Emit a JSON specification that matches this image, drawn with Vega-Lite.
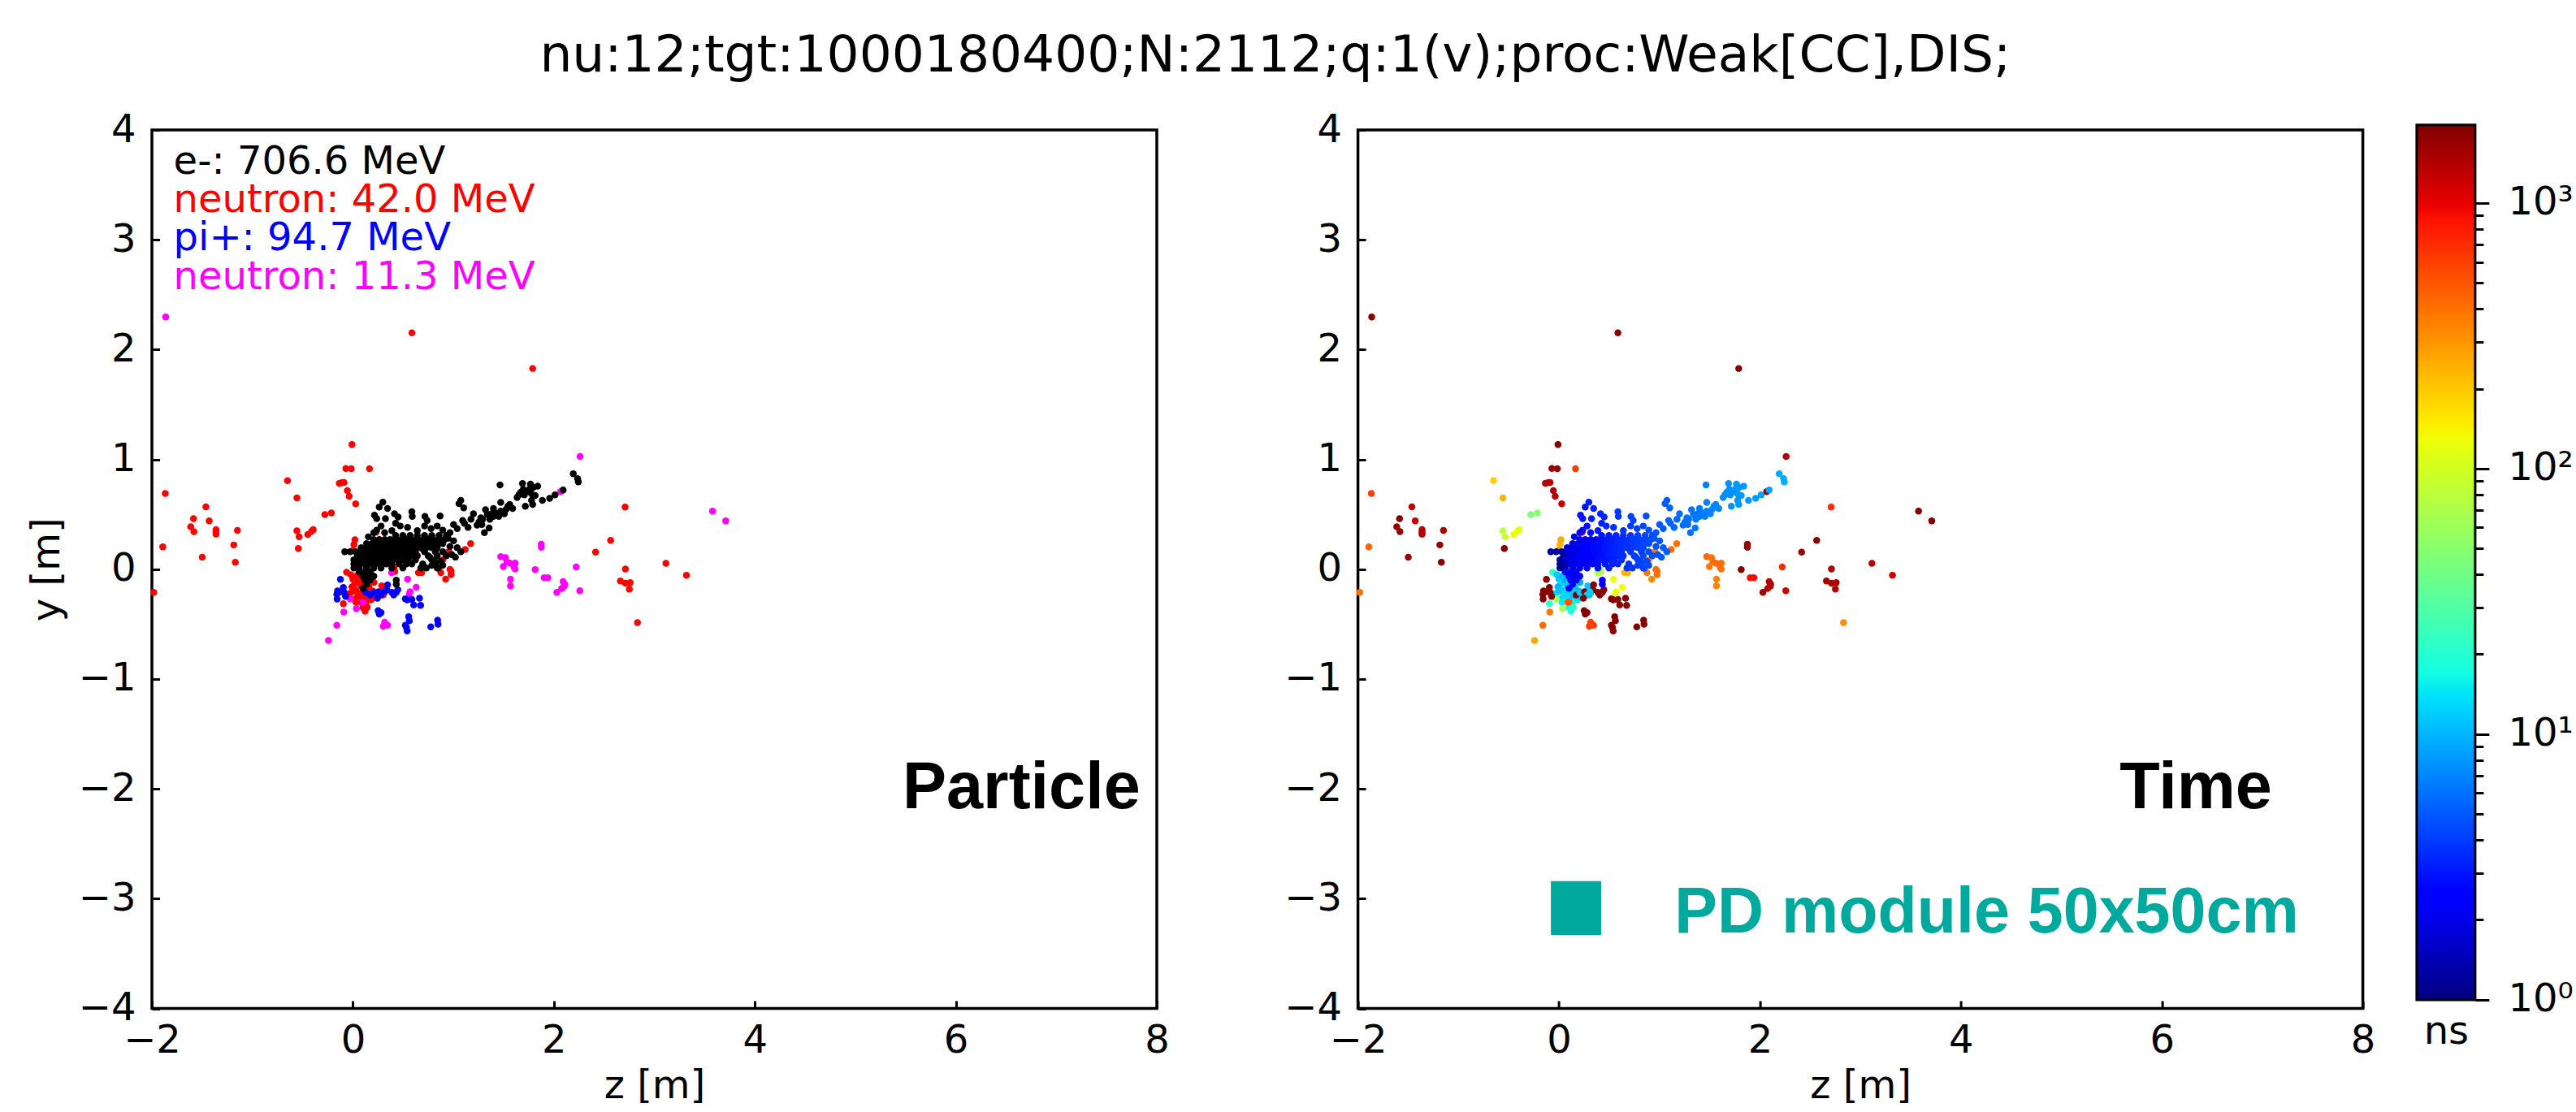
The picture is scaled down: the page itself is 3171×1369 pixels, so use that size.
{
"$schema": "https://vega.github.io/schema/vega-lite/v6.json",
"background": "white",
"padding": {"left": 32, "top": 38, "right": 0, "bottom": 0},
"title": {"text": "nu:12;tgt:1000180400;N:2112;q:1(v);proc:Weak[CC],DIS;", "font": "DejaVu Sans", "fontSize": 63, "fontWeight": "normal", "color": "black", "anchor": "middle", "offset": 33, "dx": -30},
"config": {
 "font": "DejaVu Sans",
 "view": {"stroke": "black", "strokeWidth": 3.5},
 "axis": {"domain": false, "grid": false, "tickSize": -9.5, "tickWidth": 3, "tickColor": "black", "labelFont": "DejaVu Sans", "labelFontSize": 48, "labelColor": "black", "labelFlush": false, "labelOverlap": false, "titleFont": "DejaVu Sans", "titleFontSize": 48, "titleFontWeight": "normal", "titleColor": "black"},
 "axisX": {"labelPadding": 25.5, "titlePadding": 8},
 "axisY": {"labelPadding": 29.5, "titlePadding": 14}
},
"datasets": {"pts": [
{"z":-1.867,"y":0.689,"p":"n","t":600},
{"z":-1.892,"y":0.204,"p":"n","t":450},
{"z":-1.982,"y":-0.211,"p":"n","t":400},
{"z":-1.463,"y":0.568,"p":"n","t":1300},
{"z":-1.586,"y":0.46,"p":"n","t":1900},
{"z":-1.43,"y":0.44,"p":"n","t":1200},
{"z":-1.614,"y":0.386,"p":"n","t":1700},
{"z":-1.582,"y":0.342,"p":"n","t":1700},
{"z":-1.362,"y":0.361,"p":"n","t":1400},
{"z":-1.362,"y":0.337,"p":"n","t":1400},
{"z":-1.362,"y":0.319,"p":"n","t":1400},
{"z":-1.149,"y":0.354,"p":"n","t":1500},
{"z":-1.185,"y":0.221,"p":"n","t":1700},
{"z":-1.499,"y":0.11,"p":"n","t":1700},
{"z":-1.17,"y":0.063,"p":"n","t":1850},
{"z":-0.651,"y":0.807,"p":"n","t":190},
{"z":-0.557,"y":0.65,"p":"n","t":230},
{"z":-0.557,"y":0.349,"p":"n","t":80},
{"z":-0.535,"y":0.295,"p":"n","t":95},
{"z":-0.543,"y":0.189,"p":"n","t":1850},
{"z":-0.449,"y":0.317,"p":"n","t":125},
{"z":-0.413,"y":0.344,"p":"n","t":120},
{"z":-0.395,"y":0.361,"p":"n","t":115},
{"z":-0.279,"y":0.497,"p":"n","t":45},
{"z":-0.214,"y":0.512,"p":"n","t":50},
{"z":-0.009,"y":1.135,"p":"n","t":1950},
{"z":-0.07,"y":0.918,"p":"n","t":1700},
{"z":-0.016,"y":0.916,"p":"n","t":1700},
{"z":0.165,"y":0.916,"p":"n","t":600},
{"z":-0.135,"y":0.783,"p":"n","t":1400},
{"z":-0.11,"y":0.788,"p":"n","t":1400},
{"z":-0.088,"y":0.79,"p":"n","t":1400},
{"z":-0.055,"y":0.716,"p":"n","t":1400},
{"z":-0.037,"y":0.664,"p":"n","t":1400},
{"z":0.028,"y":0.595,"p":"n","t":1200},
{"z":0.23,"y":0.337,"p":"n","t":1000},
{"z":0.02,"y":0.268,"p":"n","t":260},
{"z":0.01,"y":0.223,"p":"n","t":240},
{"z":0.0,"y":0.171,"p":"n","t":300},
{"z":-0.063,"y":-0.028,"p":"n","t":22},
{"z":-0.02,"y":-0.05,"p":"n","t":12},
{"z":0.0,"y":-0.09,"p":"n","t":11},
{"z":0.02,"y":-0.13,"p":"n","t":13},
{"z":-0.01,"y":-0.16,"p":"n","t":10},
{"z":0.03,"y":-0.19,"p":"n","t":12},
{"z":0.06,"y":-0.1,"p":"n","t":9},
{"z":0.08,"y":-0.15,"p":"n","t":11},
{"z":0.05,"y":-0.23,"p":"n","t":14},
{"z":0.09,"y":-0.21,"p":"n","t":12},
{"z":0.12,"y":-0.18,"p":"n","t":10},
{"z":0.11,"y":-0.26,"p":"n","t":13},
{"z":0.14,"y":-0.24,"p":"n","t":11},
{"z":0.17,"y":-0.22,"p":"n","t":12},
{"z":0.18,"y":-0.28,"p":"n","t":14},
{"z":0.13,"y":-0.3,"p":"n","t":16},
{"z":0.02,"y":-0.27,"p":"n","t":12},
{"z":-0.03,"y":-0.22,"p":"n","t":13},
{"z":0.2,"y":-0.2,"p":"n","t":10},
{"z":0.22,"y":-0.26,"p":"n","t":11},
{"z":0.06,"y":-0.03,"p":"n","t":9},
{"z":0.15,"y":-0.08,"p":"n","t":10},
{"z":0.21,"y":-0.12,"p":"n","t":9},
{"z":0.0,"y":-0.2,"p":"n","t":11},
{"z":0.04,"y":-0.06,"p":"n","t":10},
{"z":0.1,"y":-0.12,"p":"n","t":12},
{"z":0.07,"y":-0.25,"p":"n","t":13},
{"z":0.16,"y":-0.16,"p":"n","t":11},
{"z":0.03,"y":-0.3,"p":"n","t":15},
{"z":0.1,"y":-0.35,"p":"n","t":17},
{"z":-0.095,"y":-0.314,"p":"n","t":22},
{"z":0.121,"y":-0.383,"p":"n","t":18},
{"z":0.143,"y":-0.346,"p":"n","t":20},
{"z":0.085,"y":-0.304,"p":"n","t":400},
{"z":0.316,"y":-0.211,"p":"n","t":10},
{"z":0.322,"y":-0.177,"p":"n","t":11},
{"z":0.302,"y":-0.235,"p":"n","t":10},
{"z":0.287,"y":-0.151,"p":"n","t":11},
{"z":0.41,"y":0.016,"p":"n","t":70},
{"z":0.417,"y":-0.021,"p":"n","t":70},
{"z":0.652,"y":-0.031,"p":"n","t":230},
{"z":0.684,"y":-0.031,"p":"n","t":230},
{"z":0.875,"y":-0.031,"p":"n","t":380},
{"z":0.923,"y":-0.09,"p":"n","t":330},
{"z":0.966,"y":-0.001,"p":"n","t":420},
{"z":0.977,"y":-0.018,"p":"n","t":420},
{"z":0.977,"y":-0.05,"p":"n","t":400},
{"z":0.894,"y":0.085,"p":"n","t":330},
{"z":0.955,"y":0.159,"p":"n","t":380},
{"z":0.688,"y":0.189,"p":"n","t":300},
{"z":1.117,"y":0.179,"p":"n","t":420},
{"z":1.172,"y":0.233,"p":"n","t":400},
{"z":2.709,"y":0.566,"p":"n","t":700},
{"z":2.565,"y":0.263,"p":"n","t":1850},
{"z":2.415,"y":0.156,"p":"n","t":1700},
{"z":3.115,"y":0.053,"p":"n","t":1400},
{"z":2.712,"y":0.002,"p":"n","t":1400},
{"z":3.319,"y":-0.055,"p":"n","t":1200},
{"z":2.662,"y":-0.107,"p":"n","t":1600},
{"z":2.712,"y":-0.127,"p":"n","t":1500},
{"z":2.759,"y":-0.122,"p":"n","t":1500},
{"z":2.751,"y":-0.181,"p":"n","t":1400},
{"z":2.832,"y":-0.486,"p":"n","t":320},
{"z":0.587,"y":2.153,"p":"n","t":1900},
{"z":1.789,"y":1.828,"p":"n","t":1900},
{"z":-1.863,"y":2.296,"p":"m","t":1900},
{"z":2.261,"y":1.027,"p":"m","t":1400},
{"z":2.067,"y":0.706,"p":"m","t":1800},
{"z":1.875,"y":0.228,"p":"m","t":1700},
{"z":1.875,"y":0.199,"p":"m","t":1700},
{"z":1.471,"y":0.115,"p":"m","t":420},
{"z":1.518,"y":0.105,"p":"m","t":400},
{"z":1.532,"y":0.066,"p":"m","t":400},
{"z":1.561,"y":0.056,"p":"m","t":420},
{"z":1.497,"y":0.024,"p":"m","t":380},
{"z":1.615,"y":0.056,"p":"m","t":400},
{"z":1.604,"y":0.016,"p":"m","t":420},
{"z":1.615,"y":0.001,"p":"m","t":400},
{"z":1.814,"y":-0.004,"p":"m","t":1850},
{"z":2.222,"y":0.021,"p":"m","t":700},
{"z":1.568,"y":-0.09,"p":"m","t":350},
{"z":1.568,"y":-0.151,"p":"m","t":350},
{"z":1.904,"y":-0.078,"p":"m","t":900},
{"z":1.94,"y":-0.078,"p":"m","t":900},
{"z":2.092,"y":-0.112,"p":"m","t":1400},
{"z":2.107,"y":-0.137,"p":"m","t":1400},
{"z":2.103,"y":-0.156,"p":"m","t":1400},
{"z":2.077,"y":-0.176,"p":"m","t":1400},
{"z":2.03,"y":-0.211,"p":"m","t":1600},
{"z":2.258,"y":-0.196,"p":"m","t":1200},
{"z":3.579,"y":0.529,"p":"m","t":1950},
{"z":3.71,"y":0.44,"p":"m","t":1950},
{"z":0.385,"y":-0.031,"p":"m","t":70},
{"z":0.544,"y":-0.09,"p":"m","t":130},
{"z":0.63,"y":-0.164,"p":"m","t":130},
{"z":0.569,"y":-0.206,"p":"m","t":130},
{"z":0.562,"y":-0.223,"p":"m","t":125},
{"z":-0.027,"y":-0.27,"p":"m","t":65},
{"z":0.1,"y":-0.299,"p":"m","t":500},
{"z":0.035,"y":-0.358,"p":"m","t":70},
{"z":-0.091,"y":-0.39,"p":"m","t":380},
{"z":0.316,"y":-0.482,"p":"m","t":600},
{"z":0.302,"y":-0.519,"p":"m","t":600},
{"z":0.345,"y":-0.51,"p":"m","t":600},
{"z":-0.16,"y":-0.511,"p":"m","t":420},
{"z":-0.243,"y":-0.649,"p":"m","t":260},
{"z":-0.124,"y":-0.092,"p":"pi","t":1900},
{"z":-0.153,"y":-0.198,"p":"pi","t":1900},
{"z":-0.16,"y":-0.23,"p":"pi","t":1900},
{"z":-0.157,"y":-0.272,"p":"pi","t":1900},
{"z":-0.095,"y":-0.166,"p":"pi","t":1900},
{"z":-0.088,"y":-0.211,"p":"pi","t":1900},
{"z":-0.073,"y":-0.248,"p":"pi","t":1900},
{"z":-0.11,"y":-0.206,"p":"pi","t":1900},
{"z":0.129,"y":-0.211,"p":"pi","t":12},
{"z":0.172,"y":-0.235,"p":"pi","t":1900},
{"z":0.208,"y":-0.211,"p":"pi","t":12},
{"z":0.255,"y":-0.206,"p":"pi","t":1900},
{"z":0.28,"y":-0.235,"p":"pi","t":12},
{"z":0.244,"y":-0.265,"p":"pi","t":1900},
{"z":0.345,"y":-0.142,"p":"pi","t":1900},
{"z":0.338,"y":-0.186,"p":"pi","t":1900},
{"z":0.388,"y":-0.211,"p":"pi","t":1900},
{"z":0.406,"y":-0.235,"p":"pi","t":1900},
{"z":0.432,"y":-0.211,"p":"pi","t":1900},
{"z":0.447,"y":-0.186,"p":"pi","t":1900},
{"z":0.309,"y":-0.206,"p":"pi","t":12},
{"z":0.522,"y":-0.27,"p":"pi","t":1900},
{"z":0.587,"y":-0.275,"p":"pi","t":1900},
{"z":0.605,"y":-0.326,"p":"pi","t":1900},
{"z":0.663,"y":-0.265,"p":"pi","t":1900},
{"z":0.674,"y":-0.329,"p":"pi","t":1900},
{"z":0.54,"y":-0.28,"p":"pi","t":1900},
{"z":0.251,"y":-0.378,"p":"pi","t":1950},
{"z":0.28,"y":-0.395,"p":"pi","t":1950},
{"z":0.262,"y":-0.408,"p":"pi","t":1950},
{"z":0.555,"y":-0.432,"p":"pi","t":1900},
{"z":0.562,"y":-0.469,"p":"pi","t":1900},
{"z":0.522,"y":-0.511,"p":"pi","t":1900},
{"z":0.533,"y":-0.531,"p":"pi","t":1900},
{"z":0.54,"y":-0.563,"p":"pi","t":1900},
{"z":0.775,"y":-0.526,"p":"pi","t":1950},
{"z":0.843,"y":-0.464,"p":"pi","t":1900},
{"z":0.847,"y":-0.501,"p":"pi","t":1900},
{"z":0.425,"y":0.307,"p":"e","t":2.9},
{"z":0.497,"y":0.307,"p":"e","t":3.1},
{"z":0.569,"y":0.307,"p":"e","t":3.4},
{"z":0.641,"y":0.307,"p":"e","t":3.6},
{"z":0.713,"y":0.307,"p":"e","t":3.9},
{"z":0.785,"y":0.307,"p":"e","t":4.1},
{"z":0.858,"y":0.307,"p":"e","t":4.3},
{"z":0.93,"y":0.307,"p":"e","t":4.6},
{"z":0.208,"y":0.27,"p":"e","t":2.2},
{"z":0.262,"y":0.27,"p":"e","t":2.4},
{"z":0.316,"y":0.27,"p":"e","t":2.5},
{"z":0.37,"y":0.27,"p":"e","t":2.7},
{"z":0.425,"y":0.27,"p":"e","t":2.9},
{"z":0.479,"y":0.27,"p":"e","t":3.1},
{"z":0.533,"y":0.27,"p":"e","t":3.3},
{"z":0.587,"y":0.27,"p":"e","t":3.4},
{"z":0.641,"y":0.27,"p":"e","t":3.6},
{"z":0.695,"y":0.27,"p":"e","t":3.8},
{"z":0.749,"y":0.27,"p":"e","t":4.0},
{"z":0.803,"y":0.27,"p":"e","t":4.1},
{"z":0.858,"y":0.27,"p":"e","t":4.3},
{"z":0.912,"y":0.27,"p":"e","t":4.5},
{"z":0.136,"y":0.233,"p":"e","t":1.9},
{"z":0.19,"y":0.233,"p":"e","t":2.1},
{"z":0.244,"y":0.233,"p":"e","t":2.3},
{"z":0.298,"y":0.233,"p":"e","t":2.5},
{"z":0.352,"y":0.233,"p":"e","t":2.7},
{"z":0.406,"y":0.233,"p":"e","t":2.8},
{"z":0.461,"y":0.233,"p":"e","t":3.0},
{"z":0.515,"y":0.233,"p":"e","t":3.2},
{"z":0.569,"y":0.233,"p":"e","t":3.4},
{"z":0.623,"y":0.233,"p":"e","t":3.6},
{"z":0.677,"y":0.233,"p":"e","t":3.7},
{"z":0.731,"y":0.233,"p":"e","t":3.9},
{"z":0.785,"y":0.233,"p":"e","t":4.1},
{"z":0.839,"y":0.233,"p":"e","t":4.3},
{"z":0.894,"y":0.233,"p":"e","t":4.5},
{"z":0.082,"y":0.196,"p":"e","t":1.8},
{"z":0.136,"y":0.196,"p":"e","t":1.9},
{"z":0.19,"y":0.196,"p":"e","t":2.1},
{"z":0.244,"y":0.196,"p":"e","t":2.3},
{"z":0.298,"y":0.196,"p":"e","t":2.5},
{"z":0.352,"y":0.196,"p":"e","t":2.7},
{"z":0.406,"y":0.196,"p":"e","t":2.8},
{"z":0.461,"y":0.196,"p":"e","t":3.0},
{"z":0.515,"y":0.196,"p":"e","t":3.2},
{"z":0.569,"y":0.196,"p":"e","t":3.4},
{"z":0.623,"y":0.196,"p":"e","t":3.6},
{"z":0.677,"y":0.196,"p":"e","t":3.7},
{"z":0.731,"y":0.196,"p":"e","t":3.9},
{"z":0.785,"y":0.196,"p":"e","t":4.1},
{"z":0.839,"y":0.196,"p":"e","t":4.3},
{"z":-0.081,"y":0.159,"p":"e","t":1.3},
{"z":-0.027,"y":0.159,"p":"e","t":1.3},
{"z":0.028,"y":0.159,"p":"e","t":1.2},
{"z":0.082,"y":0.159,"p":"e","t":1.8},
{"z":0.136,"y":0.159,"p":"e","t":1.9},
{"z":0.19,"y":0.159,"p":"e","t":2.1},
{"z":0.244,"y":0.159,"p":"e","t":2.3},
{"z":0.298,"y":0.159,"p":"e","t":2.5},
{"z":0.352,"y":0.159,"p":"e","t":2.7},
{"z":0.406,"y":0.159,"p":"e","t":2.8},
{"z":0.461,"y":0.159,"p":"e","t":3.0},
{"z":0.515,"y":0.159,"p":"e","t":3.2},
{"z":0.569,"y":0.159,"p":"e","t":3.4},
{"z":0.623,"y":0.159,"p":"e","t":3.6},
{"z":0.713,"y":0.159,"p":"e","t":3.9},
{"z":0.821,"y":0.159,"p":"e","t":4.2},
{"z":0.046,"y":0.122,"p":"e","t":1.2},
{"z":0.1,"y":0.122,"p":"e","t":1.8},
{"z":0.154,"y":0.122,"p":"e","t":2.0},
{"z":0.208,"y":0.122,"p":"e","t":2.2},
{"z":0.262,"y":0.122,"p":"e","t":2.4},
{"z":0.316,"y":0.122,"p":"e","t":2.5},
{"z":0.37,"y":0.122,"p":"e","t":2.7},
{"z":0.425,"y":0.122,"p":"e","t":2.9},
{"z":0.479,"y":0.122,"p":"e","t":3.1},
{"z":0.533,"y":0.122,"p":"e","t":3.3},
{"z":0.587,"y":0.122,"p":"e","t":3.4},
{"z":0.641,"y":0.122,"p":"e","t":3.6},
{"z":0.749,"y":0.122,"p":"e","t":4.0},
{"z":0.839,"y":0.122,"p":"e","t":4.3},
{"z":0.01,"y":0.085,"p":"e","t":1.2},
{"z":0.064,"y":0.085,"p":"e","t":1.7},
{"z":0.118,"y":0.085,"p":"e","t":1.9},
{"z":0.172,"y":0.085,"p":"e","t":2.1},
{"z":0.226,"y":0.085,"p":"e","t":2.2},
{"z":0.28,"y":0.085,"p":"e","t":2.4},
{"z":0.334,"y":0.085,"p":"e","t":2.6},
{"z":0.388,"y":0.085,"p":"e","t":2.8},
{"z":0.443,"y":0.085,"p":"e","t":3.0},
{"z":0.497,"y":0.085,"p":"e","t":3.1},
{"z":0.551,"y":0.085,"p":"e","t":3.3},
{"z":0.623,"y":0.085,"p":"e","t":3.6},
{"z":0.785,"y":0.085,"p":"e","t":4.1},
{"z":0.01,"y":0.048,"p":"e","t":1.1},
{"z":0.064,"y":0.048,"p":"e","t":1.4},
{"z":0.118,"y":0.048,"p":"e","t":1.9},
{"z":0.172,"y":0.048,"p":"e","t":2.1},
{"z":0.226,"y":0.048,"p":"e","t":2.2},
{"z":0.28,"y":0.048,"p":"e","t":2.4},
{"z":0.334,"y":0.048,"p":"e","t":2.6},
{"z":0.388,"y":0.048,"p":"e","t":2.8},
{"z":0.461,"y":0.048,"p":"e","t":3.0},
{"z":0.533,"y":0.048,"p":"e","t":3.3},
{"z":0.587,"y":0.048,"p":"e","t":3.4},
{"z":0.695,"y":0.048,"p":"e","t":3.8},
{"z":0.821,"y":0.048,"p":"e","t":4.2},
{"z":0.01,"y":0.011,"p":"e","t":1.1},
{"z":0.064,"y":0.011,"p":"e","t":1.2},
{"z":0.136,"y":0.011,"p":"e","t":1.9},
{"z":0.208,"y":0.011,"p":"e","t":2.2},
{"z":0.28,"y":0.011,"p":"e","t":2.4},
{"z":0.388,"y":0.011,"p":"e","t":2.8},
{"z":0.497,"y":0.011,"p":"e","t":3.1},
{"z":0.677,"y":0.011,"p":"e","t":3.7},
{"z":0.839,"y":0.011,"p":"e","t":4.3},
{"z":0.064,"y":-0.025,"p":"e","t":2.2},
{"z":0.118,"y":-0.025,"p":"e","t":2.2},
{"z":0.172,"y":-0.025,"p":"e","t":2.3},
{"z":0.1,"y":-0.063,"p":"e","t":2.2},
{"z":0.154,"y":-0.063,"p":"e","t":2.2},
{"z":0.208,"y":-0.063,"p":"e","t":2.3},
{"z":0.118,"y":-0.1,"p":"e","t":2.2},
{"z":0.172,"y":-0.1,"p":"e","t":2.3},
{"z":0.136,"y":-0.137,"p":"e","t":2.2},
{"z":0.1,"y":-0.174,"p":"e","t":2.2},
{"z":0.432,"y":-0.1,"p":"e","t":2.5},
{"z":0.432,"y":-0.137,"p":"e","t":2.5},
{"z":0.298,"y":0.61,"p":"e","t":3.2},
{"z":0.262,"y":0.566,"p":"e","t":3.0},
{"z":0.345,"y":0.553,"p":"e","t":3.2},
{"z":0.215,"y":0.492,"p":"e","t":3.0},
{"z":0.237,"y":0.46,"p":"e","t":3.0},
{"z":0.324,"y":0.46,"p":"e","t":3.2},
{"z":0.414,"y":0.504,"p":"e","t":3.4},
{"z":0.45,"y":0.475,"p":"e","t":3.4},
{"z":0.587,"y":0.524,"p":"e","t":3.8},
{"z":0.591,"y":0.48,"p":"e","t":3.8},
{"z":0.717,"y":0.48,"p":"e","t":4.2},
{"z":0.739,"y":0.443,"p":"e","t":4.2},
{"z":0.868,"y":0.484,"p":"e","t":4.6},
{"z":0.425,"y":0.418,"p":"e","t":3.3},
{"z":0.471,"y":0.393,"p":"e","t":3.4},
{"z":0.544,"y":0.381,"p":"e","t":3.6},
{"z":0.641,"y":0.351,"p":"e","t":3.8},
{"z":0.713,"y":0.393,"p":"e","t":4.0},
{"z":0.778,"y":0.369,"p":"e","t":4.2},
{"z":0.28,"y":0.393,"p":"e","t":2.9},
{"z":0.237,"y":0.356,"p":"e","t":2.8},
{"z":0.316,"y":0.332,"p":"e","t":2.8},
{"z":0.388,"y":0.351,"p":"e","t":3.0},
{"z":0.208,"y":0.332,"p":"e","t":2.6},
{"z":0.154,"y":0.295,"p":"e","t":2.3},
{"z":0.839,"y":0.393,"p":"e","t":4.4},
{"z":0.894,"y":0.356,"p":"e","t":4.6},
{"z":1.074,"y":0.627,"p":"e","t":5.2},
{"z":1.056,"y":0.598,"p":"e","t":5.2},
{"z":1.103,"y":0.558,"p":"e","t":5.4},
{"z":1.2,"y":0.504,"p":"e","t":5.8},
{"z":1.002,"y":0.406,"p":"e","t":5.0},
{"z":1.092,"y":0.443,"p":"e","t":5.3},
{"z":1.11,"y":0.418,"p":"e","t":5.4},
{"z":1.255,"y":0.43,"p":"e","t":6.0},
{"z":1.291,"y":0.455,"p":"e","t":6.0},
{"z":1.32,"y":0.541,"p":"e","t":6.2},
{"z":1.399,"y":0.553,"p":"e","t":6.4},
{"z":1.471,"y":0.608,"p":"e","t":6.8},
{"z":1.453,"y":0.48,"p":"e","t":6.6},
{"z":1.356,"y":0.376,"p":"e","t":6.2},
{"z":1.309,"y":0.332,"p":"e","t":6.0},
{"z":1.561,"y":0.59,"p":"e","t":7.0},
{"z":1.59,"y":0.553,"p":"e","t":7.0},
{"z":1.652,"y":0.677,"p":"e","t":7.4},
{"z":1.695,"y":0.726,"p":"e","t":7.6},
{"z":1.688,"y":0.78,"p":"e","t":7.6},
{"z":1.767,"y":0.775,"p":"e","t":8.0},
{"z":1.796,"y":0.746,"p":"e","t":8.0},
{"z":1.839,"y":0.756,"p":"e","t":8.2},
{"z":1.731,"y":0.706,"p":"e","t":7.8},
{"z":1.778,"y":0.687,"p":"e","t":8.0},
{"z":1.814,"y":0.672,"p":"e","t":8.0},
{"z":1.716,"y":0.573,"p":"e","t":7.6},
{"z":1.789,"y":0.59,"p":"e","t":8.0},
{"z":1.886,"y":0.627,"p":"e","t":8.2},
{"z":1.958,"y":0.645,"p":"e","t":8.4},
{"z":2.012,"y":0.677,"p":"e","t":8.6},
{"z":2.092,"y":0.721,"p":"e","t":8.8},
{"z":2.193,"y":0.869,"p":"e","t":9.2},
{"z":2.236,"y":0.825,"p":"e","t":9.4},
{"z":2.243,"y":0.795,"p":"e","t":9.4},
{"z":1.464,"y":0.768,"p":"e","t":6.8},
{"z":1.489,"y":0.516,"p":"e","t":6.8},
{"z":1.525,"y":0.546,"p":"e","t":7.0},
{"z":1.435,"y":0.509,"p":"e","t":6.5},
{"z":1.381,"y":0.504,"p":"e","t":6.3},
{"z":1.283,"y":0.406,"p":"e","t":6.0},
{"z":1.236,"y":0.401,"p":"e","t":5.8},
{"z":1.363,"y":0.455,"p":"e","t":6.3},
{"z":1.399,"y":0.48,"p":"e","t":6.4},
{"z":1.507,"y":0.504,"p":"e","t":6.9},
{"z":1.543,"y":0.573,"p":"e","t":7.0},
{"z":1.634,"y":0.652,"p":"e","t":7.3},
{"z":1.67,"y":0.701,"p":"e","t":7.5},
{"z":1.753,"y":0.726,"p":"e","t":7.9},
{"z":1.471,"y":0.529,"p":"e","t":6.8},
{"z":1.338,"y":0.499,"p":"e","t":6.2},
{"z":1.273,"y":0.467,"p":"e","t":6.0},
{"z":1.175,"y":0.455,"p":"e","t":5.6},
{"z":1.146,"y":0.381,"p":"e","t":5.5},
{"z":1.038,"y":0.369,"p":"e","t":5.0},
{"z":0.966,"y":0.332,"p":"e","t":4.8},
{"z":1.002,"y":0.258,"p":"e","t":4.9},
{"z":0.948,"y":0.282,"p":"e","t":4.7},
{"z":0.966,"y":0.208,"p":"e","t":4.8},
{"z":1.074,"y":0.159,"p":"e","t":5.2},
{"z":1.038,"y":0.196,"p":"e","t":5.0},
{"z":0.984,"y":0.134,"p":"e","t":4.8},
{"z":1.778,"y":0.627,"p":"e","t":8.0},
{"z":1.706,"y":0.677,"p":"e","t":7.6},
{"z":0.814,"y":0.073,"p":"e","t":4.2},
{"z":0.85,"y":0.011,"p":"e","t":4.3},
{"z":0.785,"y":0.036,"p":"e","t":4.1},
{"z":0.731,"y":0.011,"p":"e","t":3.9},
{"z":0.767,"y":0.11,"p":"e","t":4.0},
{"z":0.894,"y":0.159,"p":"e","t":4.5},
{"z":0.93,"y":0.122,"p":"e","t":4.6},
{"z":0.876,"y":0.073,"p":"e","t":4.4},
{"z":0.894,"y":0.036,"p":"e","t":4.5},
{"z":1.02,"y":0.11,"p":"e","t":5.0}
]},
"spacing": 247.6,
"bounds": "flush",
"hconcat": [
 {
  "width": 1237, "height": 1081.5,
  "layer": [
   {"data": {"name": "pts"}, "mark": {"type": "circle", "size": 72, "opacity": 1},
    "encoding": {
     "x": {"field": "z", "type": "quantitative", "scale": {"domain": [-2, 8], "nice": false, "zero": false}, "axis": {"values": [-2, 0, 2, 4, 6, 8], "format": "d", "title": "z [m]"}},
     "y": {"field": "y", "type": "quantitative", "scale": {"domain": [-4, 4], "nice": false, "zero": false}, "axis": {"values": [-4, -3, -2, -1, 0, 1, 2, 3, 4], "format": "d", "title": "y [m]"}},
     "color": {"field": "p", "type": "nominal", "scale": {"domain": ["e", "n", "pi", "m"], "range": ["#000000", "#FF0000", "#0000FF", "#FF00FF"]}, "legend": null}
    }},
   {"data": {"values": [{}]}, "mark": {"type": "text", "align": "left", "baseline": "alphabetic", "font": "DejaVu Sans", "fontSize": 48, "color": "#000000"},
    "encoding": {"x": {"datum": -1.785, "type": "quantitative"}, "y": {"datum": 3.604, "type": "quantitative"}, "text": {"value": "e-: 706.6 MeV"}}},
   {"data": {"values": [{}]}, "mark": {"type": "text", "align": "left", "baseline": "alphabetic", "font": "DejaVu Sans", "fontSize": 48, "color": "#FF0000"},
    "encoding": {"x": {"datum": -1.785, "type": "quantitative"}, "y": {"datum": 3.251, "type": "quantitative"}, "text": {"value": "neutron: 42.0 MeV"}}},
   {"data": {"values": [{}]}, "mark": {"type": "text", "align": "left", "baseline": "alphabetic", "font": "DejaVu Sans", "fontSize": 48, "color": "#0000FF"},
    "encoding": {"x": {"datum": -1.785, "type": "quantitative"}, "y": {"datum": 2.902, "type": "quantitative"}, "text": {"value": "pi+: 94.7 MeV"}}},
   {"data": {"values": [{}]}, "mark": {"type": "text", "align": "left", "baseline": "alphabetic", "font": "DejaVu Sans", "fontSize": 48, "color": "#FF00FF"},
    "encoding": {"x": {"datum": -1.785, "type": "quantitative"}, "y": {"datum": 2.549, "type": "quantitative"}, "text": {"value": "neutron: 11.3 MeV"}}},
   {"data": {"values": [{}]}, "mark": {"type": "text", "align": "left", "baseline": "alphabetic", "font": "Liberation Sans", "fontWeight": "bold", "fontSize": 81, "color": "#000000"},
    "encoding": {"x": {"datum": 5.47, "type": "quantitative"}, "y": {"datum": -2.177, "type": "quantitative"}, "text": {"value": "Particle"}}}
  ]
 },
 {
  "spacing": 66.3,
  "bounds": "flush",
  "hconcat": [
   {
    "width": 1237, "height": 1081.5,
    "layer": [
     {"data": {"name": "pts"}, "mark": {"type": "circle", "size": 72, "opacity": 1},
      "encoding": {
       "x": {"field": "z", "type": "quantitative", "scale": {"domain": [-2, 8], "nice": false, "zero": false}, "axis": {"values": [-2, 0, 2, 4, 6, 8], "format": "d", "title": "z [m]"}},
       "y": {"field": "y", "type": "quantitative", "scale": {"domain": [-4, 4], "nice": false, "zero": false}, "axis": {"values": [-4, -3, -2, -1, 0, 1, 2, 3, 4], "format": "d", "title": null}},
       "color": {"field": "t", "type": "quantitative", "scale": {"type": "log", "domain": [1, 2.304, 2.581, 13.19, 14.23, 17.2, 128.4, 138.5, 149.4, 855.3, 995.4, 1970], "range": ["#000080", "#0000FF", "#0000FF", "#00DBFF", "#00E5F7", "#15FFE2", "#EEFF08", "#F7F500", "#FFEC00", "#FF1300", "#E80000", "#800000"], "interpolate": "rgb"}, "legend": null}
      }},
     {"data": {"values": [{}]}, "mark": {"type": "text", "align": "left", "baseline": "alphabetic", "font": "Liberation Sans", "fontWeight": "bold", "fontSize": 81, "color": "#000000"},
      "encoding": {"x": {"datum": 5.58, "type": "quantitative"}, "y": {"datum": -2.177, "type": "quantitative"}, "text": {"value": "Time"}}},
     {"data": {"values": [{}]}, "mark": {"type": "rect", "color": "#00A99D"},
      "encoding": {"x": {"datum": -0.08, "type": "quantitative"}, "x2": {"datum": 0.42}, "y": {"datum": -3.33, "type": "quantitative"}, "y2": {"datum": -2.84}}},
     {"data": {"values": [{}]}, "mark": {"type": "text", "align": "left", "baseline": "alphabetic", "font": "Liberation Sans", "fontWeight": "bold", "fontSize": 79, "color": "#00A99D"},
      "encoding": {"x": {"datum": 1.15, "type": "quantitative"}, "y": {"datum": -3.311, "type": "quantitative"}, "text": {"value": "PD module 50x50cm"}}}
    ]
   },
   {
    "width": 72, "height": 1081.5,
    "view": {"stroke": null},
    "data": {"values": [{}]},
    "mark": {"type": "rect", "stroke": "black", "strokeWidth": 3,
      "fill": {"gradient": "linear", "x1": 0, "y1": 1, "x2": 0, "y2": 0, "stops": [
        {"offset": 0, "color": "#000080"}, {"offset": 0.11, "color": "#0000FF"}, {"offset": 0.125, "color": "#0000FF"},
        {"offset": 0.34, "color": "#00DBFF"}, {"offset": 0.35, "color": "#00E5F7"}, {"offset": 0.375, "color": "#15FFE2"},
        {"offset": 0.64, "color": "#EEFF08"}, {"offset": 0.65, "color": "#F7F500"}, {"offset": 0.66, "color": "#FFEC00"},
        {"offset": 0.89, "color": "#FF1300"}, {"offset": 0.91, "color": "#E80000"}, {"offset": 1, "color": "#800000"}]}},
    "encoding": {
     "x": {"datum": 0, "type": "quantitative", "scale": {"domain": [0, 1], "nice": false}, "axis": {"title": "ns", "labels": false, "ticks": false, "domain": false, "grid": false, "titlePadding": 5}},
     "x2": {"datum": 1},
     "y": {"datum": 1, "type": "quantitative", "scale": {"type": "log", "domain": [1, 1970], "range": [1070.9, -6.3], "nice": false},
       "axis": {"orient": "right", "title": null, "domain": false, "grid": false,
         "values": [1, 2, 3, 4, 5, 6, 7, 8, 9, 10, 20, 30, 40, 50, 60, 70, 80, 90, 100, 200, 300, 400, 500, 600, 700, 800, 900, 1000],
         "labelExpr": "datum.value == 1 ? '10⁰' : datum.value == 10 ? '10¹' : datum.value == 100 ? '10²' : datum.value == 1000 ? '10³' : ''",
         "tickSize": {"condition": {"test": "datum.value == 1 || datum.value == 10 || datum.value == 100 || datum.value == 1000", "value": 17}, "value": 10},
         "tickWidth": 3, "labelPadding": 23, "labelFontSize": 48, "labelAlign": "left", "labelBaseline": "middle"}},
     "y2": {"datum": 1970}
    }
   }
  ]
 }
]
}
